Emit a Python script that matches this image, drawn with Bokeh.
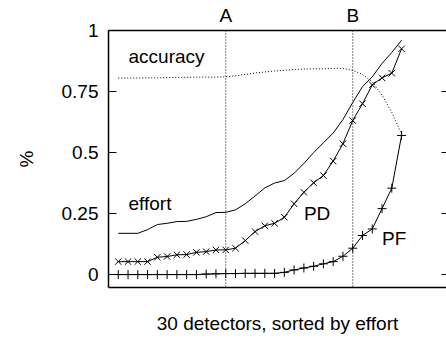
from bokeh.plotting import figure
from bokeh.models import Range1d, LinearAxis, FixedTicker, Span, Label
from bokeh.embed import file_html
from bokeh.resources import INLINE

# ---- data ----
detectors = list(range(1, 31))
effort = [0.169, 0.169, 0.169, 0.184, 0.205, 0.21, 0.217, 0.218, 0.226, 0.237,
          0.254, 0.255, 0.265, 0.29, 0.322, 0.355, 0.375, 0.385, 0.415, 0.455,
          0.50, 0.54, 0.58, 0.635, 0.705, 0.77, 0.81, 0.865, 0.91, 0.96]
pd_vals = [0.053, 0.053, 0.053, 0.053, 0.071, 0.074, 0.081, 0.082, 0.091, 0.094,
           0.101, 0.101, 0.108, 0.139, 0.176, 0.2, 0.21, 0.235, 0.29, 0.337,
           0.376, 0.406, 0.465, 0.536, 0.631, 0.70, 0.777, 0.806, 0.825, 0.925]
pf_vals = [0.0, 0.0, 0.0, 0.0, 0.0, 0.0, 0.0, 0.0, 0.0, 0.002,
           0.003, 0.004, 0.004, 0.005, 0.005, 0.005, 0.005, 0.009, 0.019, 0.027,
           0.034, 0.044, 0.053, 0.075, 0.108, 0.16, 0.187, 0.27, 0.354, 0.57]
accuracy = [0.805, 0.805, 0.805, 0.806, 0.806, 0.807, 0.808, 0.808, 0.809, 0.809,
            0.809, 0.81, 0.814, 0.82, 0.826, 0.83, 0.834, 0.837, 0.84, 0.842,
            0.843, 0.843, 0.845, 0.845, 0.837, 0.82, 0.79, 0.735, 0.665, 0.575]
y_ticks = [0, 0.25, 0.5, 0.75, 1]
y_tick_labels = ["0", "0.25", "0.5", "0.75", "1"]
markers = {"A": 12, "B": 25}

FONT = "Liberation Sans"
FS = "19px"

p = figure(width=446, height=345, output_backend="svg", toolbar_location=None,
           x_range=Range1d(0, 34.6), y_range=Range1d(-0.053, 1.0),
           min_border_left=108, min_border_right=0, min_border_top=30,
           min_border_bottom=58, x_axis_location=None, y_axis_location=None)
p.outline_line_color = None
p.xgrid.visible = False
p.ygrid.visible = False
p.background_fill_color = "white"
p.border_fill_color = "white"

# left axis
yl = LinearAxis(ticker=FixedTicker(ticks=y_ticks),
                major_label_overrides={t: l for t, l in zip(y_ticks, y_tick_labels)})
yl.major_tick_in = 8
yl.major_tick_out = 0
yl.major_tick_line_color = "black"
yl.minor_tick_line_color = None
yl.major_label_standoff = 10
yl.major_label_text_font = FONT
yl.major_label_text_font_size = FS
yl.major_label_text_color = "black"
yl.axis_label = "%"
yl.axis_label_text_font = FONT
yl.axis_label_text_font_size = FS
yl.axis_label_text_font_style = "normal"
yl.axis_label_text_color = "black"
yl.axis_label_standoff = 22
yl.axis_line_color = "black"
yl.axis_line_width = 1.5
p.add_layout(yl, "left")

# right axis (ticks only)
yr = LinearAxis(ticker=FixedTicker(ticks=y_ticks),
                major_label_overrides={t: "" for t in y_ticks})
yr.major_tick_in = 5
yr.major_tick_out = 0
yr.major_tick_line_color = "black"
yr.minor_tick_line_color = None
yr.major_label_standoff = 0
yr.axis_line_color = None
p.add_layout(yr, "right")

# bottom axis
xb = LinearAxis(ticker=FixedTicker(ticks=[]))
xb.major_tick_line_color = None
xb.minor_tick_line_color = None
xb.axis_label = "30 detectors, sorted by effort"
xb.axis_label_text_font = FONT
xb.axis_label_text_font_size = FS
xb.axis_label_text_font_style = "normal"
xb.axis_label_text_color = "black"
xb.axis_label_standoff = 25
xb.axis_line_color = "black"
xb.axis_line_width = 1.5
p.add_layout(xb, "below")

# top axis with A / B markers
xt = LinearAxis(ticker=FixedTicker(ticks=list(markers.values())),
                major_label_overrides={v: k for k, v in markers.items()})
xt.major_tick_in = 0
xt.major_tick_out = 0
xt.minor_tick_line_color = None
xt.major_label_standoff = 5
xt.major_label_text_font = FONT
xt.major_label_text_font_size = FS
xt.major_label_text_color = "black"
xt.axis_line_color = "black"
xt.axis_line_width = 1.5
p.add_layout(xt, "above")

for name, loc in markers.items():
    p.add_layout(Span(location=loc, dimension="height", line_color="black",
                      line_width=1, line_dash="1 2"))

# series
p.line(detectors, accuracy, line_color="black", line_width=1, line_dash="1 2")
p.line(detectors, effort, line_color="black", line_width=1)
p.line(detectors, pd_vals, line_color="black", line_width=1)
p.scatter(detectors, pd_vals, marker="x", size=9, line_color="black", line_width=1)
p.line(detectors, pf_vals, line_color="black", line_width=1)
p.scatter(detectors, pf_vals, marker="cross", size=9, line_color="black", line_width=1)

for txt, x, y in [("accuracy", 2.05, 0.895), ("effort", 2.05, 0.291),
                  ("PD", 20.0, 0.25), ("PF", 28.0, 0.148)]:
    p.add_layout(Label(x=x, y=y, text=txt, text_font=FONT, text_font_size=FS,
                       text_baseline="middle", text_align="left", text_color="black"))

open("out.html", "w").write(file_html(p, INLINE))
